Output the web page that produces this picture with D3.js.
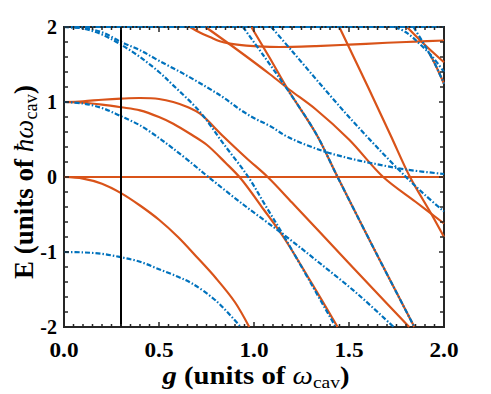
<!DOCTYPE html>
<html>
<head>
<meta charset="utf-8">
<script src="https://cdn.jsdelivr.net/npm/d3@7"></script>
<style>
  body { margin: 0; background: #fff; }
  svg { display: block; }
  .tick-label { font-family: "Liberation Serif", "Times New Roman", serif; font-weight: bold; fill: #000; }
  .axis-label { font-family: "Liberation Serif", "Times New Roman", serif; font-weight: bold; fill: #000; }
</style>
</head>
<body>
<div id="chart"></div>
<script>
// Energy levels vs coupling g, two symmetry sectors (orange solid / blue dash-dot)
// each curve: [g, E] pairs

const xTicks = [0, 0.5, 1.0, 1.5, 2.0];
const xTickLabels = ['0.0', '0.5', '1.0', '1.5', '2.0'];
const yTicks = [2, 1, 0, -1, -2];
const yTickLabels = ['2', '1', '0', '-1', '-2'];
const markerG = 0.3;

// orange (solid) levels
const orange1 = [[0, 0], [2, 0]];
const orange2 = [[0, 0], [0.1, -0.022], [0.2, -0.09], [0.3, -0.215], [0.4, -0.38], [0.5, -0.57], [0.6, -0.8], [0.7, -1.07], [0.8, -1.35], [0.9, -1.67], [0.975, -2]];
const orange3 = [[0, 1], [0.1, 1.01], [0.2, 1.03], [0.3, 1.045], [0.4, 1.053], [0.5, 1.04], [0.575, 1.0], [0.653, 0.93], [0.716, 0.844], [0.839, 0.54], [0.961, 0.25], [1.072, 0], [1.2, -0.34], [1.347, -0.737], [1.6, -1.42], [1.817, -2]];
const orange4 = [[0, 1], [0.1, 0.99], [0.2, 0.965], [0.3, 0.93], [0.4, 0.889], [0.5, 0.8], [0.575, 0.711], [0.674, 0.56], [0.751, 0.43], [0.85, 0.19], [0.93, -0.02], [1.05, -0.43], [1.16, -0.82], [1.3, -1.4], [1.44, -2]];
const orange5 = [[0.663, 2], [0.72, 1.92], [0.768, 1.867], [0.82, 1.81], [0.874, 1.778], [0.96, 1.752], [1.084, 1.735], [1.2, 1.735], [1.326, 1.745], [1.5, 1.765], [1.7, 1.79], [1.85, 1.805], [2, 1.82]];
const orange6 = [[0.745, 2], [0.926, 1.67], [1.084, 1.37], [1.189, 1.16], [1.326, 0.9], [1.5, 0.5], [1.68, 0], [1.85, -0.33], [2, -0.62]];
const orange7 = [[1.449, 2], [1.6, 1.2], [1.72, 0.55], [1.821, 0], [1.935, -0.5], [2, -0.8]];
const orange8 = [[0.986, 2], [1.08, 1.6], [1.18, 1.16], [1.326, 0.58], [1.44, 0], [1.64, -1.0], [1.844, -2]];
const orange9 = [[1.805, 2], [1.9, 1.76], [2, 1.53]];
const orange10 = [[1.92, 1.66], [1.95, 1.52], [2, 1.244]];

// blue (dash-dot) levels
const blue0 = [[0, 2], [2, 2]];
const blue1 = [[0, 2], [0.1, 1.985], [0.2, 1.93], [0.3, 1.8], [0.4, 1.69], [0.5, 1.55], [0.628, 1.378], [0.75, 1.2], [0.839, 1.06], [0.926, 0.9], [1.004, 0.78], [1.084, 0.68], [1.179, 0.533], [1.347, 0.36], [1.5, 0.25], [1.628, 0.18], [1.8, 0.1], [2, 0.04]];
const blue2 = [[0, 2], [0.1, 1.98], [0.2, 1.9], [0.3, 1.765], [0.4, 1.6], [0.5, 1.4], [0.575, 1.222], [0.716, 0.867], [0.839, 0.444], [0.97, 0], [1.06, -0.38], [1.16, -0.8], [1.3, -1.42], [1.43, -2]];
const blue3 = [[0, 1], [0.1, 0.98], [0.2, 0.92], [0.3, 0.81], [0.4, 0.689], [0.5, 0.52], [0.575, 0.378], [0.674, 0.18], [0.76, 0], [0.95, -0.38], [1.162, -0.78], [1.347, -1.15], [1.55, -1.57], [1.735, -2]];
const blue4 = [[0, -1], [0.1, -1.005], [0.2, -1.025], [0.3, -1.07], [0.4, -1.13], [0.5, -1.23], [0.6, -1.33], [0.674, -1.42], [0.8, -1.65], [0.93, -2]];
const blue5 = [[0.942, 2], [1.05, 1.62], [1.18, 1.15], [1.326, 0.58], [1.44, 0], [1.64, -1.0], [1.844, -2]];
const blue6 = [[1.091, 2], [1.2, 1.68], [1.347, 1.244], [1.5, 0.8], [1.65, 0.39], [1.8, 0], [1.9, -0.24], [2, -0.46]];
const blue7 = [[1.742, 2], [1.8, 1.93], [1.87, 1.78], [1.94, 1.6], [2, 1.4]];
const blue8 = [[1.839, 2], [1.9, 1.75], [1.95, 1.52], [2, 1.244]];

const orangeCurves = [orange1, orange2, orange3, orange4, orange5, orange6, orange7, orange8, orange9, orange10];
const blueCurves = [blue0, blue1, blue2, blue3, blue4, blue5, blue6, blue7, blue8];

const W = 491, H = 394;
const margin = { left: 64, right: 47, top: 27, bottom: 67 };
const plotW = W - margin.left - margin.right;   // 380
const plotH = H - margin.top - margin.bottom;   // 300

const ORANGE = '#D95319';
const BLUE = '#0072BD';
const AXIS = '#262626';

const svg = d3.select('#chart').append('svg')
    .attr('width', W)
    .attr('height', H);

const x = d3.scaleLinear().domain([0, 2]).range([0, plotW]);
const y = d3.scaleLinear().domain([-2, 2]).range([plotH, 0]);

const g = svg.append('g').attr('transform', `translate(${margin.left},${margin.top})`);

svg.append('defs').append('clipPath').attr('id', 'plot-clip')
    .append('rect')
    .attr('x', -2).attr('y', -2)
    .attr('width', plotW + 4).attr('height', plotH + 4);

// frame
g.append('rect')
    .attr('width', plotW).attr('height', plotH)
    .attr('fill', 'none')
    .attr('stroke', AXIS)
    .attr('stroke-width', 2);

const line = d3.line()
    .x(d => x(d[0]))
    .y(d => y(d[1]))
    .curve(d3.curveCatmullRom.alpha(0.5));

const curves = g.append('g').attr('clip-path', 'url(#plot-clip)');

curves.selectAll('path.orange')
    .data(orangeCurves)
    .join('path')
    .attr('class', 'orange')
    .attr('d', line)
    .attr('fill', 'none')
    .attr('stroke', ORANGE)
    .attr('stroke-width', 2.2);

curves.selectAll('path.blue')
    .data(blueCurves)
    .join('path')
    .attr('class', 'blue')
    .attr('d', line)
    .attr('fill', 'none')
    .attr('stroke', BLUE)
    .attr('stroke-width', 2.2)
    .attr('stroke-dasharray', '5,2,1.5,2');

// marker line at g = 0.3
g.append('line')
    .attr('x1', x(markerG)).attr('x2', x(markerG))
    .attr('y1', 0).attr('y2', plotH)
    .attr('stroke', '#000')
    .attr('stroke-width', 2);

// ticks on all four sides, pointing inward
const xMinor = d3.range(0, 2.0001, 0.05);
const yMinor = d3.range(-2, 2.0001, 0.2);
const isMajorX = v => Math.abs(v * 2 - Math.round(v * 2)) < 1e-6;
const isMajorY = v => Math.abs(v - Math.round(v)) < 1e-6;

const ticks = g.append('g').attr('stroke', AXIS).attr('stroke-width', 1.5);
ticks.selectAll('line.xb').data(xMinor).join('line')
    .attr('x1', d => x(d)).attr('x2', d => x(d))
    .attr('y1', plotH).attr('y2', d => plotH - (isMajorX(d) ? 5 : 3));
ticks.selectAll('line.xt').data(xMinor).join('line')
    .attr('x1', d => x(d)).attr('x2', d => x(d))
    .attr('y1', 0).attr('y2', d => (isMajorX(d) ? 5 : 3));
ticks.selectAll('line.yl').data(yMinor).join('line')
    .attr('y1', d => y(d)).attr('y2', d => y(d))
    .attr('x1', 0).attr('x2', d => (isMajorY(d) ? 5 : 4));
ticks.selectAll('line.yr').data(yMinor).join('line')
    .attr('y1', d => y(d)).attr('y2', d => y(d))
    .attr('x1', plotW).attr('x2', d => plotW - (isMajorY(d) ? 5 : 4));

// tick labels
g.selectAll('text.xl').data(xTicks).join('text')
    .attr('class', 'tick-label')
    .attr('x', d => x(d))
    .attr('y', plotH + 30)
    .attr('text-anchor', 'middle')
    .attr('font-size', 20)
    .attr('textLength', 29)
    .attr('lengthAdjust', 'spacingAndGlyphs')
    .text((d, i) => xTickLabels[i]);

g.selectAll('text.yl').data(yTicks).join('text')
    .attr('class', 'tick-label')
    .attr('x', -7)
    .attr('y', d => y(d) + 7)
    .attr('text-anchor', 'end')
    .attr('font-size', 20)
    .text((d, i) => yTickLabels[i]);

// axis labels (widened a bit to match the reference face)
const xLabel = svg.append('text')
    .attr('class', 'axis-label')
    .attr('transform', `translate(${margin.left + plotW / 2 + 2},384) scale(1.15,1)`)
    .attr('text-anchor', 'middle')
    .attr('font-size', 25);
xLabel.append('tspan').attr('font-style', 'italic').text('g');
xLabel.append('tspan').text(' (units of ');
xLabel.append('tspan').attr('font-style', 'italic').attr('font-weight', 'normal').text('ω');
xLabel.append('tspan').attr('baseline-shift', '-4').attr('font-size', '68%').attr('font-weight', 'normal').text('cav');
xLabel.append('tspan').text(')');

const yLabel = svg.append('text')
    .attr('class', 'axis-label')
    .attr('transform', `translate(33,${margin.top + plotH / 2 + 5}) rotate(-90)`)
    .attr('text-anchor', 'middle')
    .attr('font-size', 27);
yLabel.append('tspan').text('E (units of ');
yLabel.append('tspan').attr('font-style', 'italic').attr('font-weight', 'normal').text('ħω');
yLabel.append('tspan').attr('baseline-shift', '-4').attr('font-size', '68%').attr('font-weight', 'normal').text('cav');
yLabel.append('tspan').text(')');
</script>
</body>
</html>
